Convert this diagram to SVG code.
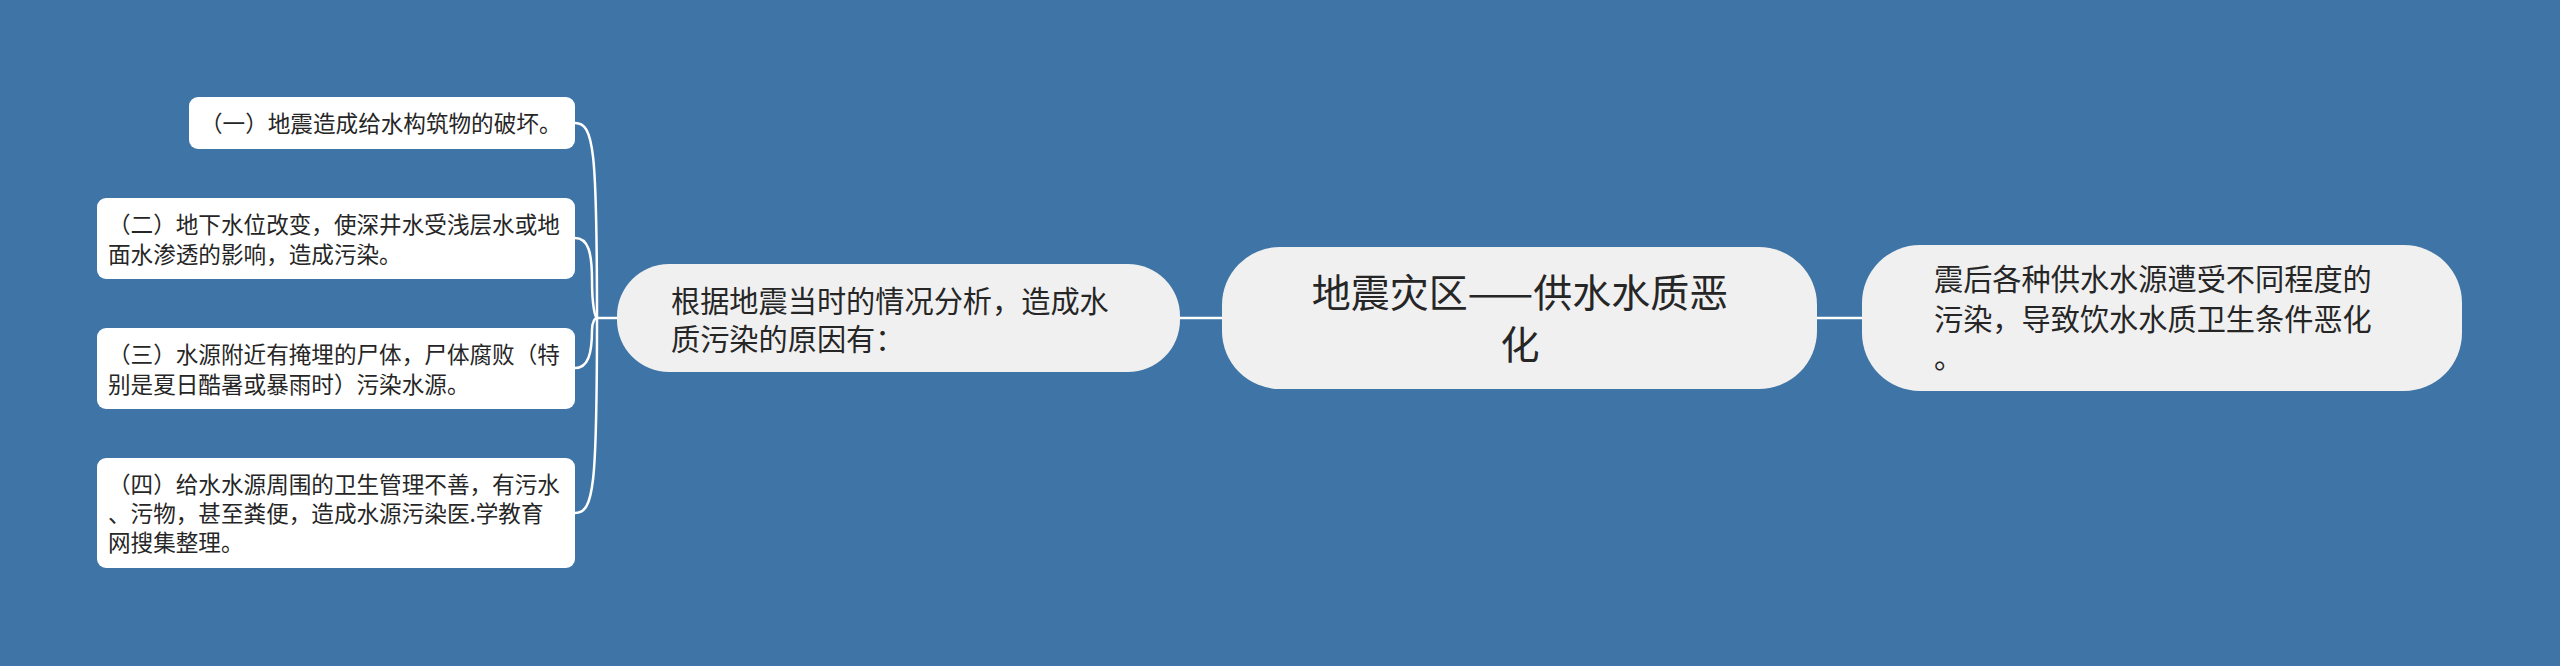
<svg xmlns="http://www.w3.org/2000/svg" width="2560" height="666" viewBox="0 0 2560 666">
<style>
.bg{fill:#3e74a6}
.leaf{fill:#ffffff}
.main{fill:#f0f0f0}
.conn{fill:none;stroke:#ffffff;stroke-width:2.5}
text{font-family:"Noto Sans CJK SC","Noto Sans",sans-serif;fill:#262626}
.t-leaf{font-size:22.6px}
.t-mid{font-size:29.2px}
.t-root{font-size:39px}
</style>
<rect class="bg" x="0" y="0" width="2560" height="666"/>
<g id="connectors">
<path class="conn" d="M1180,318 L1222,318"/>
<path class="conn" d="M1817,318 L1862,318"/>
<path class="conn" d="M597,318 L617,318"/>
<path class="conn" d="M575,123 C594,123 597,150 597,318"/>
<path class="conn" d="M575,238 C588,238 592,252 592,280 C592,305 595,318 597,318"/>
<path class="conn" d="M575,368 C588,368 592,354 592,330 C592,322 595,318 597,318"/>
<path class="conn" d="M575,513 C594,513 597,486 597,318"/>
</g>
<g id="root">
<rect class="main" x="1222" y="247" width="595" height="142" rx="58" ry="58"/>
<text class="t-root" text-anchor="middle"><tspan x="1520" y="307">地震灾区——供水水质恶</tspan><tspan x="1520" y="359">化</tspan></text>
</g>
<g id="right-node">
<rect class="main" x="1862" y="245" width="600" height="146" rx="58" ry="58"/>
<text class="t-mid"><tspan x="1934" y="290">震后各种供水水源遭受不同程度的</tspan><tspan x="1934" y="330">污染，导致饮水水质卫生条件恶化</tspan><tspan x="1934" y="368">。</tspan></text>
</g>
<g id="mid-node">
<rect class="main" x="617" y="264" width="563" height="108" rx="52" ry="52"/>
<text class="t-mid"><tspan x="671" y="312">根据地震当时的情况分析，造成水</tspan><tspan x="671" y="350">质污染的原因有：</tspan></text>
</g>
<g id="leaf1">
<rect class="leaf" x="189" y="97" width="386" height="52" rx="9" ry="9"/>
<text class="t-leaf" x="200" y="132">（一）地震造成给水构筑物的破坏。</text>
</g>
<g id="leaf2">
<rect class="leaf" x="97" y="198" width="478" height="81" rx="9" ry="9"/>
<text class="t-leaf"><tspan x="108" y="233">（二）地下水位改变，使深井水受浅层水或地</tspan><tspan x="108" y="263">面水渗透的影响，造成污染。</tspan></text>
</g>
<g id="leaf3">
<rect class="leaf" x="97" y="328" width="478" height="81" rx="9" ry="9"/>
<text class="t-leaf"><tspan x="108" y="363">（三）水源附近有掩埋的尸体，尸体腐败（特</tspan><tspan x="108" y="393">别是夏日酷暑或暴雨时）污染水源。</tspan></text>
</g>
<g id="leaf4">
<rect class="leaf" x="97" y="458" width="478" height="110" rx="9" ry="9"/>
<text class="t-leaf"><tspan x="108" y="493">（四）给水水源周围的卫生管理不善，有污水</tspan><tspan x="108" y="522">、污物，甚至粪便，造成水源污染医.学教育</tspan><tspan x="108" y="551">网搜集整理。</tspan></text>
</g>
</svg>
